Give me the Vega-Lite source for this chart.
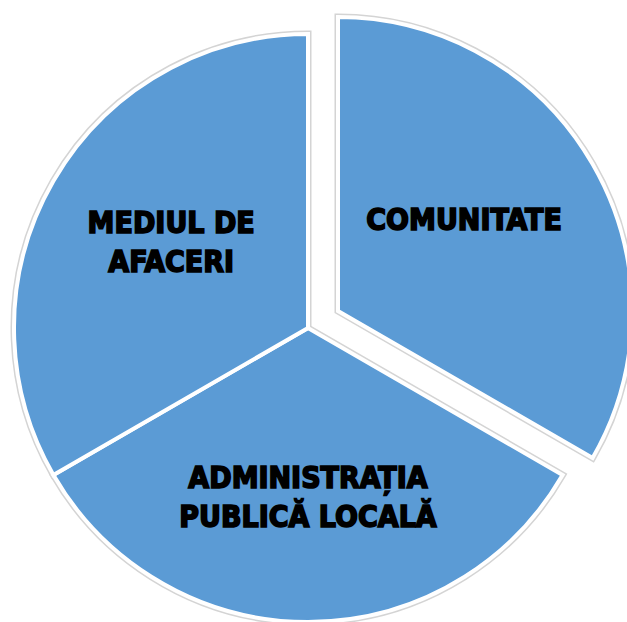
{
  "$schema": "https://vega.github.io/schema/vega-lite/v6.json",
  "width": 627,
  "height": 622,
  "padding": 0,
  "autosize": {"type": "fit", "contains": "padding"},
  "background": "white",
  "config": {"view": {"stroke": null}},
  "data": {"values": [
    {"key": "COM", "label": "COMUNITATE", "value": 1, "ord": 1},
    {"key": "ADM", "label": "ADMINISTRAȚIA\nPUBLICĂ LOCALĂ", "value": 1, "ord": 2},
    {"key": "MED", "label": "MEDIUL DE\nAFACERI", "value": 1, "ord": 3}
  ]},
  "encoding": {
    "theta": {"field": "value", "type": "quantitative", "stack": true, "scale": {"range": [0, 6.283185307179586]}},
    "order": {"field": "ord", "type": "quantitative"},
    "detail": {"field": "key", "type": "nominal"}
  },
  "layer": [
    {
      "mark": {"type": "arc", "x": 307, "y": 328, "outerRadius": 294, "fill": "#5B9BD5", "stroke": "#d4d4d4", "strokeWidth": 7},
      "encoding": {"opacity": {"condition": {"test": "datum.key === 'COM'", "value": 0}, "value": 1}}
    },
    {
      "mark": {"type": "arc", "x": 337, "y": 311, "outerRadius": 294, "fill": "#5B9BD5", "stroke": "#d4d4d4", "strokeWidth": 7},
      "encoding": {"opacity": {"condition": {"test": "datum.key === 'COM'", "value": 1}, "value": 0}}
    },
    {
      "mark": {"type": "arc", "x": 307, "y": 328, "outerRadius": 294, "fill": "#5B9BD5", "stroke": "white", "strokeWidth": 4},
      "encoding": {"opacity": {"condition": {"test": "datum.key === 'COM'", "value": 0}, "value": 1}}
    },
    {
      "mark": {"type": "arc", "x": 337, "y": 311, "outerRadius": 294, "fill": "#5B9BD5", "stroke": "white", "strokeWidth": 4},
      "encoding": {"opacity": {"condition": {"test": "datum.key === 'COM'", "value": 1}, "value": 0}}
    },
    {
      "mark": {"type": "text", "x": 307, "y": 328, "radius": 158, "dy": -25, "font": "DejaVu Sans Condensed", "fontWeight": "bold", "fontSize": 30, "lineHeight": 39, "lineBreak": "\n", "fill": "black", "stroke": "black", "strokeWidth": 1.6, "align": "center", "baseline": "middle"},
      "encoding": {
        "text": {"field": "label", "type": "nominal"},
        "opacity": {"condition": {"test": "datum.key === 'MED'", "value": 1}, "value": 0}
      }
    },
    {
      "mark": {"type": "text", "x": 307, "y": 328, "radius": 166, "dy": -15, "font": "DejaVu Sans Condensed", "fontWeight": "bold", "fontSize": 30, "lineHeight": 39, "lineBreak": "\n", "fill": "black", "stroke": "black", "strokeWidth": 1.6, "align": "center", "baseline": "middle"},
      "encoding": {
        "text": {"field": "label", "type": "nominal"},
        "opacity": {"condition": {"test": "datum.key === 'ADM'", "value": 1}, "value": 0}
      }
    },
    {
      "mark": {"type": "text", "x": 337, "y": 311, "radius": 156, "dx": -9, "dy": -12, "font": "DejaVu Sans Condensed", "fontWeight": "bold", "fontSize": 30, "lineHeight": 39, "lineBreak": "\n", "fill": "black", "stroke": "black", "strokeWidth": 1.6, "align": "center", "baseline": "middle"},
      "encoding": {
        "text": {"field": "label", "type": "nominal"},
        "opacity": {"condition": {"test": "datum.key === 'COM'", "value": 1}, "value": 0}
      }
    }
  ]
}
